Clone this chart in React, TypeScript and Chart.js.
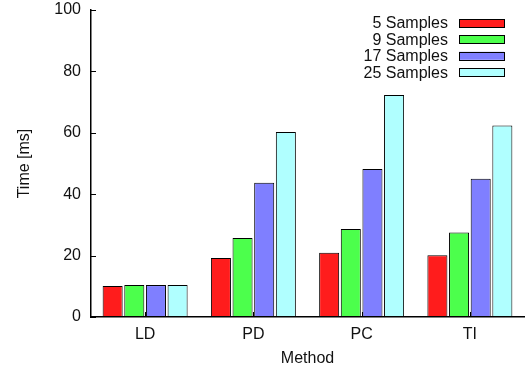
import React, { useEffect, useRef } from "react";
import Chart from "chart.js/auto";

const categories = ["LD", "PD", "PC", "TI"];
const seriesLabels = ["5 Samples", "9 Samples", "17 Samples", "25 Samples"];
const samples5 = [10.1, 19.2, 20.9, 20.1];
const samples9 = [10.4, 25.7, 28.7, 27.5];
const samples17 = [10.4, 43.7, 48.2, 45.0];
const samples25 = [10.4, 60.3, 72.3, 62.4];
const yTicks = [0, 20, 40, 60, 80, 100];

const colors = ["#ff1c1c", "#4cff4c", "#7f7fff", "#b0ffff"];
const FONT = "'Liberation Sans', Arial, Helvetica, sans-serif";

export default function App() {
  const ref = useRef<HTMLCanvasElement | null>(null);

  useEffect(() => {
    document.body.style.margin = "0";
    const canvas = ref.current;
    if (!canvas) return;
    const values = [samples5, samples9, samples17, samples25];

    const innerTicks = {
      id: "innerTicks",
      beforeDatasetsDraw(chart: any) {
        const ctx = chart.ctx;
        const y = chart.scales.y;
        const x = chart.scales.x;
        const area = chart.chartArea;
        ctx.save();
        ctx.strokeStyle = "#000";
        ctx.lineWidth = 1;
        ctx.beginPath();
        yTicks.forEach((v) => {
          const py = Math.round(y.getPixelForValue(v)) + 0.5;
          ctx.moveTo(area.left, py);
          ctx.lineTo(area.left + 5, py);
        });
        categories.forEach((_, i) => {
          const px = Math.round(x.getPixelForValue(i)) + 0.5;
          ctx.moveTo(px, area.bottom);
          ctx.lineTo(px, area.bottom - 5);
        });
        ctx.stroke();
        ctx.restore();
      },
    };

    const keyPlugin = {
      id: "keyPlugin",
      afterDraw(chart: any) {
        const ctx = chart.ctx;
        const area = chart.chartArea;
        const textRight = area.right - 76;
        const boxLeft = area.right - 65;
        const boxW = 45;
        const boxH = 8;
        ctx.save();
        ctx.font = `16px ${FONT}`;
        ctx.textAlign = "right";
        ctx.textBaseline = "middle";
        chart.data.datasets.forEach((ds: any, i: number) => {
          const cy = area.top + 13 + i * 16.4;
          ctx.fillStyle = "#111";
          ctx.fillText(ds.label, textRight, cy + 1);
          ctx.fillStyle = ds.backgroundColor;
          ctx.fillRect(boxLeft, cy - boxH / 2, boxW, boxH);
          ctx.strokeStyle = "#000";
          ctx.lineWidth = 1;
          ctx.strokeRect(boxLeft + 0.5, Math.round(cy - boxH / 2) + 0.5, boxW, boxH);
        });
        ctx.restore();
      },
    };

    const chart = new Chart(canvas, {
      type: "bar",
      data: {
        labels: categories,
        datasets: values.map((v, i) => ({
          label: seriesLabels[i],
          data: v,
          backgroundColor: colors[i],
          borderColor: "#000",
          borderWidth: 1,
          borderSkipped: false,
          categoryPercentage: 0.8,
          barPercentage: 0.925,
        })),
      },
      options: {
        animation: false,
        responsive: false,
        maintainAspectRatio: false,
        layout: { padding: { top: 10, right: 1, bottom: 0, left: 0 } },
        plugins: {
          legend: { display: false },
          tooltip: { enabled: false },
        },
        scales: {
          x: {
            grid: { display: false, drawTicks: false },
            border: { color: "#000", width: 1.5 },
            ticks: { color: "#111", font: { family: FONT, size: 16 }, padding: 8 },
            title: {
              display: true,
              text: "Method",
              color: "#111",
              font: { family: FONT, size: 16 },
              padding: { top: 0, bottom: 3 },
            },
            afterFit(scale: any) {
              scale.height = 54;
              scale.paddingLeft = 0;
              scale.paddingRight = 0;
            },
          },
          y: {
            min: 0,
            max: 100,
            grid: { display: false, drawTicks: false },
            border: { color: "#000", width: 1.5 },
            ticks: {
              stepSize: 20,
              color: "#111",
              font: { family: FONT, size: 16 },
              padding: 10,
            },
            title: {
              display: true,
              text: "Time [ms]",
              color: "#111",
              font: { family: FONT, size: 16 },
              padding: { top: 15, bottom: 0 },
            },
            afterFit(scale: any) {
              scale.width = 91;
              scale.paddingTop = 0;
              scale.paddingBottom = 0;
            },
          },
        },
      },
      plugins: [innerTicks, keyPlugin],
    });
    return () => chart.destroy();
  }, []);

  return (
    <div style={{ position: "fixed", left: 0, top: 0, width: 525, height: 371, background: "#fff" }}>
      <canvas ref={ref} width={525} height={371} style={{ width: 525, height: 371 }} />
    </div>
  );
}
